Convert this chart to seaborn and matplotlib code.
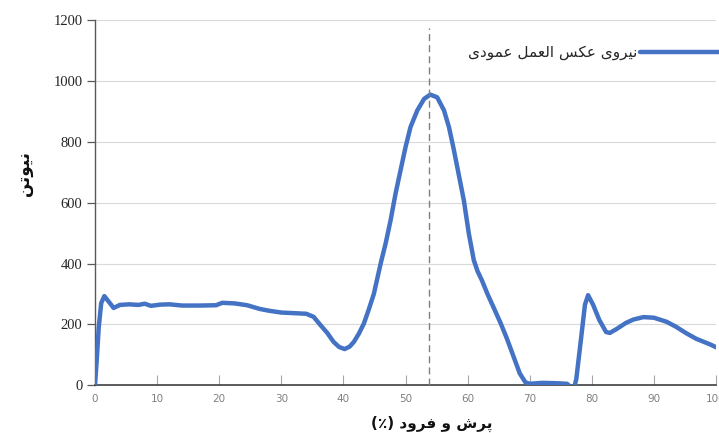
import matplotlib
matplotlib.use("Agg")
import matplotlib.pyplot as plt
import seaborn as sns
import pandas as pd

# ---------------- data ----------------
x_pct = [0, 0.3, 0.6, 1.0, 1.5, 2.2, 3.0, 4.0, 5.5, 7.0, 8.0, 9.0, 10.5, 12.0, 14.0,
         17.0, 19.5, 20.5, 22.5, 24.5, 26.5, 28.0, 30.0, 32.0, 34.0, 35.2, 36.3, 37.4,
         38.4, 39.3, 40.2, 41.0, 41.7, 42.5, 43.3, 44.1, 44.9, 46.0, 46.8, 47.6, 48.4,
         49.2, 50.0, 50.8, 51.9, 53.0, 54.0, 55.1, 56.2, 57.0, 57.7, 58.5, 59.4, 60.2,
         61.0, 61.6, 62.3, 63.2, 64.2, 65.3, 66.3, 67.3, 68.4, 69.3, 70.0, 72.0, 74.0,
         76.0, 76.6, 77.1, 77.5, 78.3, 78.9, 79.4, 80.2, 81.2, 82.3, 82.9, 84.0, 85.5,
         86.7, 88.3, 90.0, 92.0, 93.5, 95.3, 96.8, 98.0, 99.2, 100.0]
force_n = [0, 90, 190, 270, 293, 275, 254, 264, 266, 264, 268, 261, 265, 266, 262,
           262, 263, 271, 269, 263, 251, 245, 239, 237, 235, 225, 198, 172,
           143, 126, 119, 127, 143, 170, 203, 250, 300, 400, 466, 542, 630,
           706, 782, 848, 903, 941, 955, 946, 903, 848, 782, 700, 607, 498,
           411, 375, 345, 300, 255, 205, 155, 100, 39, 10, 5, 8, 7,
           5, -5, -12, 20, 159, 265, 296, 265, 215, 175, 172, 185, 205,
           216, 224, 222, 209, 193, 170, 153, 143, 133, 125]
peak_x = 53.8
x_ticks = [0, 10, 20, 30, 40, 50, 60, 70, 80, 90, 100]
y_ticks = [0, 200, 400, 600, 800, 1000, 1200]

legend_label = "نیروی عکس العمل عمودی"
x_label = "پرش و فرود (٪)"
y_label = "نیوتن"

# ------------- Persian shaping (no complex text layout in matplotlib) -------------
FORMS = {  # iso, fin, ini, med
    'ا': ('\uFE8D', '\uFE8E', None, None),
    'د': ('\uFEA9', '\uFEAA', None, None),
    'ر': ('\uFEAD', '\uFEAE', None, None),
    'و': ('\uFEED', '\uFEEE', None, None),
    'ت': ('\uFE95', '\uFE96', '\uFE97', '\uFE98'),
    'س': ('\uFEB1', '\uFEB2', '\uFEB3', '\uFEB4'),
    'ش': ('\uFEB5', '\uFEB6', '\uFEB7', '\uFEB8'),
    'ع': ('\uFEC9', '\uFECA', '\uFECB', '\uFECC'),
    'ف': ('\uFED1', '\uFED2', '\uFED3', '\uFED4'),
    'ل': ('\uFEDD', '\uFEDE', '\uFEDF', '\uFEE0'),
    'م': ('\uFEE1', '\uFEE2', '\uFEE3', '\uFEE4'),
    'ن': ('\uFEE5', '\uFEE6', '\uFEE7', '\uFEE8'),
    'ی': ('\uFBFC', '\uFBFD', '\uFBFE', '\uFBFF'),
    'ک': ('\uFB8E', '\uFB8F', '\uFB90', '\uFB91'),
    'پ': ('\uFB56', '\uFB57', '\uFB58', '\uFB59'),
}


def shape_rtl(text):
    out = []
    n = len(text)
    for i, ch in enumerate(text):
        if ch not in FORMS:
            out.append(ch)
            continue
        prev = text[i - 1] if i > 0 else ''
        nxt = text[i + 1] if i < n - 1 else ''
        join_prev = prev in FORMS and FORMS[prev][2] is not None
        join_next = FORMS[ch][2] is not None and nxt in FORMS
        iso, fin, ini, med = FORMS[ch]
        if join_prev and join_next:
            out.append(med)
        elif join_prev:
            out.append(fin)
        elif join_next:
            out.append(ini)
        else:
            out.append(iso)
    vis = ''.join(reversed(out))
    return vis.translate(str.maketrans('()', ')('))


# ---------------- figure ----------------
sns.set_theme(style="white")
plt.rcParams['font.family'] = ['DejaVu Sans']

fig = plt.figure(figsize=(7.19, 4.33), dpi=100)
ax = fig.add_axes([95 / 719, 1 - 385.3 / 433, 621 / 719, 365.3 / 433])

df = pd.DataFrame({"x": x_pct, "f": force_n})
sns.lineplot(data=df, x="x", y="f", ax=ax, color="#4472C4", linewidth=3.2,
             label=shape_rtl(legend_label), sort=False, zorder=3,
             solid_joinstyle="round", solid_capstyle="round")

ax.axvline(peak_x, ymin=0, ymax=1175 / 1200, color="#7f7f7f", linestyle=(0, (5, 3)),
           linewidth=1.0, zorder=4)

ax.set_xlim(0, 100)
ax.set_ylim(0, 1200)
ax.set_xticks(x_ticks)
ax.set_yticks(y_ticks)
ax.set_xticklabels([str(v) for v in x_ticks], family=['Liberation Sans Narrow', 'DejaVu Sans'],
                   fontsize=7.5, color="#808080")
ax.set_yticklabels([str(v) for v in y_ticks], family=['Liberation Serif', 'DejaVu Serif'],
                   fontsize=10.5, color="#262626")
ax.tick_params(axis='x', direction='in', length=7, width=0.8, color="#a6a6a6", pad=6)
ax.tick_params(axis='y', direction='out', length=6, width=0.9, color="#595959", pad=3, left=True)
ax.tick_params(axis='x', bottom=True)

ax.yaxis.grid(True, color="#d9d9d9", linewidth=0.8)
ax.xaxis.grid(False)
for s in ("top", "right"):
    ax.spines[s].set_visible(False)
ax.spines["left"].set_color("#595959")
ax.spines["left"].set_linewidth(1.0)
ax.spines["bottom"].set_color("#404040")
ax.spines["bottom"].set_linewidth(1.2)

ax.set_xlabel(shape_rtl(x_label), fontsize=11, fontweight='bold', color="#111111")
ax.xaxis.set_label_coords((432 - 95) / 621, (385.3 - 416) / 365.3)
ax.set_ylabel(shape_rtl(y_label), fontsize=12, fontweight='bold', color="#111111",
              rotation=90)
ax.yaxis.set_label_coords((33 - 95) / 621, (385.3 - 174) / 365.3)

ax.legend(loc="upper right", bbox_to_anchor=(1.0, 1 - 45 / 433),
          bbox_transform=fig.transFigure, frameon=False, markerfirst=False,
          handlelength=5.2, handletextpad=0.15, borderaxespad=0, borderpad=0,
          fontsize=11)

fig.savefig("out.png", dpi=100)
